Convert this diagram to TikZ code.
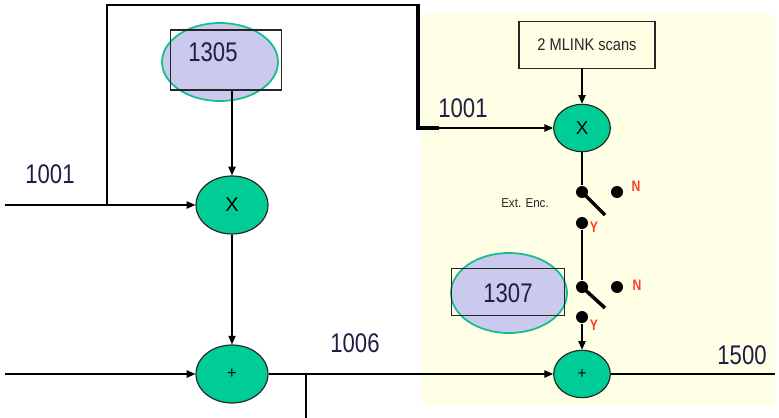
\documentclass[tikz,border=0pt]{standalone}
\usepackage{fontspec}
\setmainfont{Liberation Sans}
\usetikzlibrary{shapes.geometric, arrows.meta, positioning, calc}

\definecolor{opgreen}{RGB}{0,204,150}
\definecolor{hlfill}{RGB}{202,202,238}
\definecolor{hledge}{RGB}{20,190,140}
\definecolor{numtext}{RGB}{30,30,70}
\definecolor{ynred}{RGB}{255,60,40}
\definecolor{panel}{RGB}{255,255,230}

\begin{document}
\begin{tikzpicture}[x=0.03cm, y=-0.03cm, line width=1pt,
  op/.style={ellipse, draw=black!85, fill=opgreen, inner sep=0pt},
  opbig/.style={op, minimum width=2.16cm, minimum height=1.74cm, font=\fontsize{17}{18}\selectfont},
  opsmall/.style={op, minimum width=1.7cm, minimum height=1.42cm, font=\fontsize{16}{17}\selectfont},
  param/.style={rectangle, draw=black!85, inner sep=0pt},
  highlight/.style={ellipse, draw=hledge, line width=1.5pt, fill=hlfill, inner sep=0pt},
  num/.style={font=\fontsize{23}{25}\selectfont, text=numtext, xscale=0.82, inner sep=0pt},
  dot/.style={circle, fill=black, inner sep=0pt, minimum size=0.36cm},
  yn/.style={font=\fontsize{13}{14}\selectfont\bfseries, text=ynred, xscale=0.8, inner sep=0pt},
  arrow/.style={-{Triangle[length=2.6mm, width=2.2mm]}}
]
\useasboundingbox (0,0) rectangle (779,418);

% Hintergrund rechts
\fill[panel] (422,14) rectangle (775,405);

% linke Seite
\node (hl1305) [highlight, minimum width=3.48cm, minimum height=2.34cm] at (220,62) {};
\node (box1305) [param, minimum width=3.33cm, minimum height=1.8cm] at (226,60) {};
\node (t1305) [num] at (213,52) {1305};
\node (mulL) [opbig] at (232,205) {X};
\node (addL) [opbig, font=\fontsize{14}{15}\selectfont] at (232,374) {+};

\coordinate (inL) at (5,205);
\coordinate (jL) at (107,205);
\coordinate (topL) at (107,5);
\coordinate (topR) at (418,5);
\coordinate (turn) at (418,128);
\coordinate (inAdd) at (5,374);
\coordinate (tap) at (306,374);
\coordinate (tapEnd) at (306,418);

\draw [arrow] (inL) -- (mulL);
\draw (jL) -- (topL) -- (topR);
\draw [arrow] (mulL |- box1305.south) -- (mulL);
\draw [arrow] (mulL) -- (addL);
\draw [arrow] (inAdd) -- (addL);
\draw (tap) -- (tapEnd);

\node (lab1001L) [num] at (50,174) {1001};
\node (lab1006) [num] at (355,343) {1006};

% rechte Seite
\node (scans) [param, minimum width=4.08cm, minimum height=1.41cm,
  font=\fontsize{14.5}{15}\selectfont, text=black!85] at (587,45) {\scalebox{0.86}[1]{2 MLINK scans}};
\node (mulR) [opsmall] at (582,128) {X};
\node (addR) [opsmall, font=\fontsize{13}{14}\selectfont] at (582,374) {+};

\node (hl1307) [highlight, minimum width=3.48cm, minimum height=2.4cm] at (509,293) {};
\node (box1307) [param, minimum width=3.39cm, minimum height=1.41cm] at (508,292) {};
\node (t1307) [num] at (508,293) {1307};

% Schalter
\node (sw1p) [dot] at (582,192) {};
\node (sw1n) [dot] at (617,192) {};
\node (sw1y) [dot] at (582,223) {};
\node (sw2p) [dot] at (582,287) {};
\node (sw2n) [dot] at (617,287) {};
\node (sw2y) [dot] at (582,317) {};
\coordinate (sw1e) at (605,215);
\coordinate (sw2e) at (605,308);
\draw [line width=3pt] (sw1p.center) -- (sw1e);
\draw [line width=3pt] (sw2p.center) -- (sw2e);

\node (n1) [yn] at (636,186) {N};
\node (y1) [yn] at (594,227) {Y};
\node (n2) [yn] at (637,285) {N};
\node (y2) [yn] at (594,325) {Y};
\node (extenc) [font=\fontsize{11}{12}\selectfont, text=black!85] at (525,203) {\scalebox{0.9}[1]{Ext. Enc.}};

\coordinate (outR) at (775,374);

\draw [arrow] (topR) -- (turn) -- (mulR);
\draw [line width=4pt] ($(topR)+(0,-1)$) -- (turn) -- ++(21,0);
\draw [arrow] (mulR |- scans.south) -- (mulR);
\draw (mulR) -- (sw1p);
\draw (sw1y) -- (sw2p);
\draw [arrow] (sw2y) -- (addR);
\draw [arrow] (addL) -- (addR);
\draw (addR) -- (outR);

\node (lab1001R) [num] at (463,108) {1001};
\node (lab1500) [num] at (742,355) {1500};

\end{tikzpicture}
\end{document}
